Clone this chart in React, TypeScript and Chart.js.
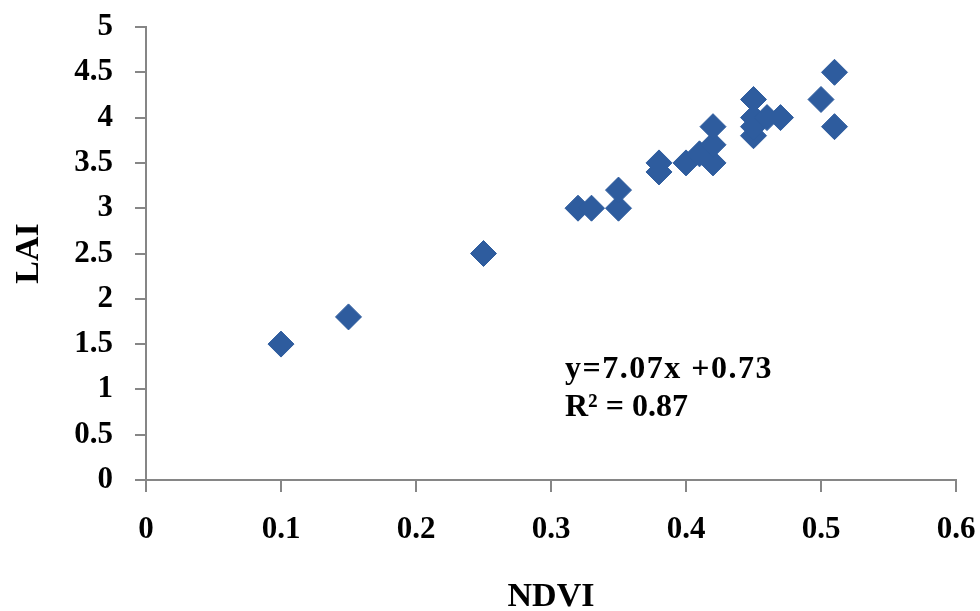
import React, { useEffect, useRef } from "react";
import { Chart, registerables } from "chart.js";

Chart.register(...registerables);

const ndvi: number[] = [0.10, 0.15, 0.25, 0.32, 0.33, 0.35, 0.35, 0.38, 0.38, 0.40, 0.41, 0.42, 0.42, 0.42, 0.45, 0.45, 0.45, 0.45, 0.46, 0.47, 0.50, 0.51, 0.51];
const lai: number[] = [1.5, 1.8, 2.5, 3.0, 3.0, 3.0, 3.2, 3.4, 3.5, 3.5, 3.6, 3.5, 3.7, 3.9, 3.8, 3.9, 4.0, 4.2, 4.0, 4.0, 4.2, 3.9, 4.5];

const xTicks: number[] = [0, 0.1, 0.2, 0.3, 0.4, 0.5, 0.6];
const yTicks: number[] = [0, 0.5, 1, 1.5, 2, 2.5, 3, 3.5, 4, 4.5, 5];
const xTickLabels: string[] = ["0", "0.1", "0.2", "0.3", "0.4", "0.5", "0.6"];
const yTickLabels: string[] = ["0", "0.5", "1", "1.5", "2", "2.5", "3", "3.5", "4", "4.5", "5"];

const equationLines: string[] = ["y=7.07x +0.73", "R\u00B2 = 0.87"];

const SERIF = '"Liberation Serif", "Times New Roman", serif';
const AXIS_COLOR = "#868686";
const MARKER_COLOR = "#2E5C9E";

const equationPlugin = {
  id: "equationText",
  afterDraw(chart: any) {
    const { ctx, chartArea } = chart;
    ctx.save();
    ctx.fillStyle = "#000";
    ctx.font = `bold 32px ${SERIF}`;
    ctx.textAlign = "left";
    ctx.textBaseline = "alphabetic";
    const left = chartArea.left + 419;
    try { (ctx as any).letterSpacing = "1.5px"; } catch (e) {}
    ctx.fillText(equationLines[0], left, 378);
    try { (ctx as any).letterSpacing = "0px"; } catch (e) {}
    ctx.fillText(equationLines[1], left, 416);
    ctx.restore();
  },
};

const clearOverhang = (scale: any) => {
  scale.paddingTop = 0;
  scale.paddingBottom = 0;
  scale.paddingLeft = 0;
  scale.paddingRight = 0;
};

export default function App() {
  const ref = useRef<HTMLCanvasElement | null>(null);

  useEffect(() => {
    if (!ref.current) return;
    const chart = new Chart(ref.current, {
      type: "scatter",
      data: {
        datasets: [
          {
            label: "LAI",
            data: ndvi.map((x, i) => ({ x, y: lai[i] })),
            pointStyle: "rectRot",
            pointRadius: 13,
            pointHoverRadius: 13,
            backgroundColor: MARKER_COLOR,
            borderColor: MARKER_COLOR,
            borderWidth: 1,
          },
        ],
      },
      options: {
        animation: false,
        responsive: false,
        maintainAspectRatio: false,
        layout: { padding: { left: 0, right: 24, top: 27, bottom: 0 } },
        plugins: {
          legend: { display: false },
          tooltip: { enabled: false },
        },
        scales: {
          x: {
            type: "linear",
            min: 0,
            max: 0.6,
            afterBuildTicks: (scale: any) => {
              scale.ticks = xTicks.map((v) => ({ value: v }));
            },
            afterFit: (scale: any) => {
              scale.height = 131;
              clearOverhang(scale);
            },
            ticks: {
              color: "#000",
              font: { family: SERIF, size: 31, weight: "bold" },
              padding: 19,
              maxRotation: 0,
              autoSkip: false,
              callback: (_v: any, i: number) => xTickLabels[i],
            },
            grid: {
              display: true,
              drawOnChartArea: false,
              drawTicks: true,
              tickLength: 12,
              color: AXIS_COLOR,
              lineWidth: 2,
            },
            border: { display: true, color: AXIS_COLOR, width: 2 },
            title: {
              display: true,
              text: "NDVI",
              color: "#000",
              font: { family: SERIF, size: 34, weight: "bold", lineHeight: 0.8 },
              padding: 0,
            },
          },
          y: {
            type: "linear",
            min: 0,
            max: 5,
            afterBuildTicks: (scale: any) => {
              scale.ticks = yTicks.map((v) => ({ value: v }));
            },
            afterFit: (scale: any) => {
              scale.width = 146;
              clearOverhang(scale);
            },
            ticks: {
              color: "#000",
              font: { family: SERIF, size: 31, weight: "bold" },
              padding: 22,
              autoSkip: false,
              callback: (_v: any, i: number) => yTickLabels[i],
            },
            grid: {
              display: true,
              drawOnChartArea: false,
              drawTicks: true,
              tickLength: 11,
              color: AXIS_COLOR,
              lineWidth: 2,
            },
            border: { display: true, color: AXIS_COLOR, width: 2 },
            title: {
              display: true,
              text: "LAI",
              color: "#000",
              font: { family: SERIF, size: 34, weight: "bold", lineHeight: 1.2 },
              padding: { top: 9, bottom: 0 },
            },
          },
        },
      },
      plugins: [equationPlugin],
    });
    return () => chart.destroy();
  }, []);

  return (
    <div style={{ position: "fixed", left: 0, top: 0, width: 980, height: 611, background: "#fff" }}>
      <canvas ref={ref} width={980} height={611} style={{ width: 980, height: 611, display: "block" }} />
    </div>
  );
}
